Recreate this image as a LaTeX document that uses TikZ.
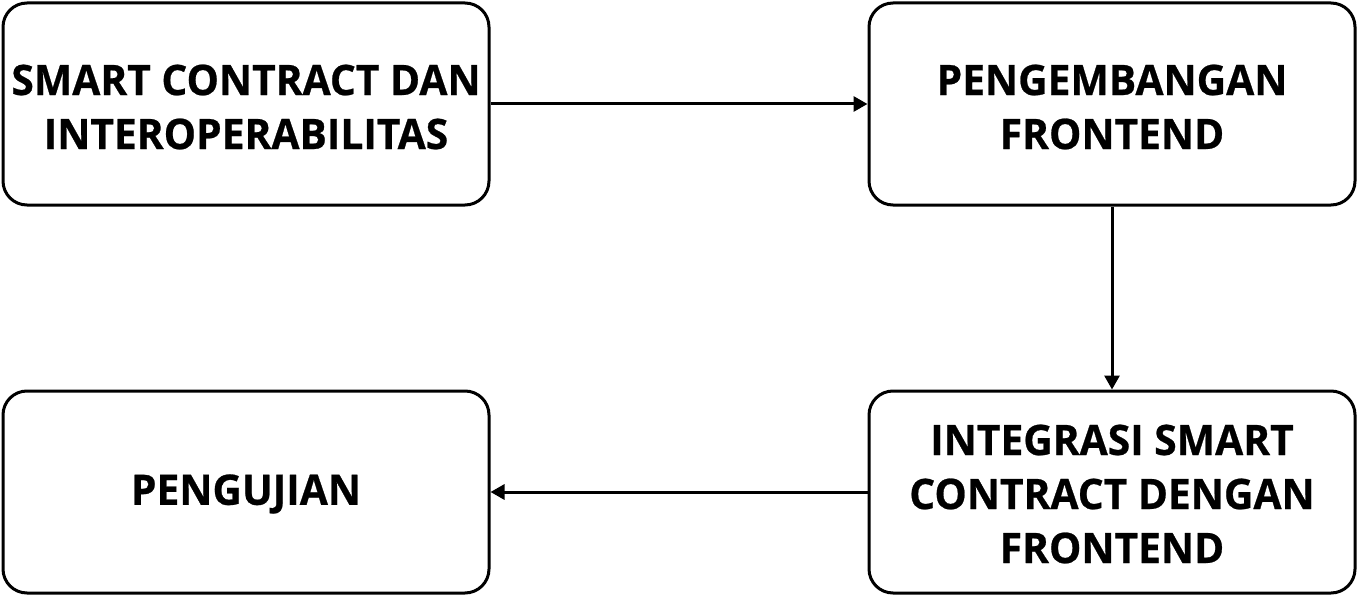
\documentclass[tikz,border=0pt]{standalone}
\usepackage{fontspec}
\setmainfont{Open Sans}[FakeStretch=0.97,BoldFeatures={FakeBold=0.6}]
\usetikzlibrary{arrows.meta}
\begin{document}
\begin{tikzpicture}[x=1pt,y=-1pt,
  box/.style={draw=black, line width=3pt, rounded corners=24pt, minimum width=486pt, minimum height=202pt, align=center, font=\fontsize{42}{54}\selectfont\bfseries, inner sep=0pt},
  conn/.style={line width=3pt, -{Triangle[length=14pt,width=15pt]}}]
\useasboundingbox (0,0) rectangle (1359,596);
\node[box] (a) at (246,104) {};
\node[box] (b) at (1112,104) {};
\node[box] (c) at (246,492) {};
\node[box] (d) at (1112,492) {};
\node[font=\fontsize{42}{54}\selectfont\bfseries, align=center, inner sep=0pt] (ta) at (246,107) {SMART CONTRACT DAN\\INTEROPERABILITAS};
\node[font=\fontsize{42}{54}\selectfont\bfseries, align=center, inner sep=0pt] (tb) at (1112,107) {PENGEMBANGAN\\FRONTEND};
\node[font=\fontsize{42}{54}\selectfont\bfseries, align=center, inner sep=0pt] (tc) at (246,494) {PENGUJIAN};
\node[font=\fontsize{42}{54}\selectfont\bfseries, align=center, inner sep=0pt] (td) at (1112,494) {INTEGRASI SMART\\CONTRACT DENGAN\\FRONTEND};
\draw[conn] (a.east) -- (b.west);
\draw[conn] (b.south) -- (d.north);
\draw[conn] (d.west) -- (c.east);
\end{tikzpicture}
\end{document}
